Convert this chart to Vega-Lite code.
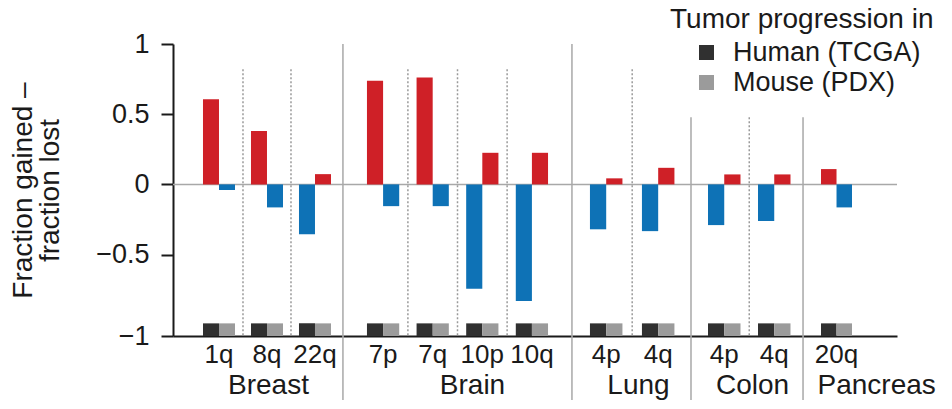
{
  "$schema": "https://vega.github.io/schema/vega-lite/v6.json",
  "background": "white",
  "padding": {"left": 9, "top": 6, "right": 0, "bottom": 0},
  "datasets": {
    "arms": [
      {"group": "Breast", "arm": "1q", "species": "Human (TCGA)", "value": 0.607},
      {"group": "Breast", "arm": "1q", "species": "Mouse (PDX)", "value": -0.04},
      {"group": "Breast", "arm": "8q", "species": "Human (TCGA)", "value": 0.38},
      {"group": "Breast", "arm": "8q", "species": "Mouse (PDX)", "value": -0.164},
      {"group": "Breast", "arm": "22q", "species": "Human (TCGA)", "value": -0.356},
      {"group": "Breast", "arm": "22q", "species": "Mouse (PDX)", "value": 0.073},
      {"group": "Brain", "arm": "7p", "species": "Human (TCGA)", "value": 0.738},
      {"group": "Brain", "arm": "7p", "species": "Mouse (PDX)", "value": -0.155},
      {"group": "Brain", "arm": "7q", "species": "Human (TCGA)", "value": 0.762},
      {"group": "Brain", "arm": "7q", "species": "Mouse (PDX)", "value": -0.155},
      {"group": "Brain", "arm": "10p", "species": "Human (TCGA)", "value": -0.743},
      {"group": "Brain", "arm": "10p", "species": "Mouse (PDX)", "value": 0.225},
      {"group": "Brain", "arm": "10q", "species": "Human (TCGA)", "value": -0.831},
      {"group": "Brain", "arm": "10q", "species": "Mouse (PDX)", "value": 0.225},
      {"group": "Lung", "arm": "4p", "species": "Human (TCGA)", "value": -0.32},
      {"group": "Lung", "arm": "4p", "species": "Mouse (PDX)", "value": 0.043},
      {"group": "Lung", "arm": "4q", "species": "Human (TCGA)", "value": -0.333},
      {"group": "Lung", "arm": "4q", "species": "Mouse (PDX)", "value": 0.118},
      {"group": "Colon", "arm": "4p", "species": "Human (TCGA)", "value": -0.29},
      {"group": "Colon", "arm": "4p", "species": "Mouse (PDX)", "value": 0.071},
      {"group": "Colon", "arm": "4q", "species": "Human (TCGA)", "value": -0.261},
      {"group": "Colon", "arm": "4q", "species": "Mouse (PDX)", "value": 0.071},
      {"group": "Pancreas", "arm": "20q", "species": "Human (TCGA)", "value": 0.109},
      {"group": "Pancreas", "arm": "20q", "species": "Mouse (PDX)", "value": -0.164}
    ],
    "dividers": [
      {"group": "Breast", "arm": "8q"},
      {"group": "Breast", "arm": "22q"},
      {"group": "Brain", "arm": "7q"},
      {"group": "Brain", "arm": "10p"},
      {"group": "Brain", "arm": "10q"},
      {"group": "Lung", "arm": "4q"},
      {"group": "Colon", "arm": "4q"}
    ],
    "edges": [
      {"group": "Brain", "arm": "7p"},
      {"group": "Lung", "arm": "4p"},
      {"group": "Colon", "arm": "4p"},
      {"group": "Pancreas", "arm": "20q"}
    ]
  },
  "hconcat": [
    {
      "width": 170, "height": 292,
      "layer": [
        {"data": {"values": [{}]}, "mark": {"type": "rule", "color": "#a8a8a8", "strokeWidth": 1.5}, "encoding": {"y": {"datum": 0, "type": "quantitative"}}},
        {"data": {"name": "dividers"}, "transform": [{"filter": "datum.group == 'Breast'"}], "mark": {"type": "rule", "color": "#9a9a9a", "strokeWidth": 1.5, "strokeDash": [2, 2]},
         "encoding": {"x": {"field": "arm", "type": "nominal", "bandPosition": -0.25}, "y": {"datum": 0.82, "type": "quantitative"}, "y2": {"datum": -1.08}}},
        {"data": {"name": "arms"}, "transform": [{"filter": "datum.group == 'Breast'"}], "mark": {"type": "bar"},
         "encoding": {
           "x": {"field": "arm", "type": "nominal", "scale": {"domain": ["1q", "8q", "22q"], "paddingInner": 0.3333, "paddingOuter": 0.4375, "align": 0.714}, "axis": {"title": "Breast", "titleX": 95}},
           "xOffset": {"field": "species", "type": "nominal", "scale": {"paddingInner": 0, "paddingOuter": 0}},
           "y": {"field": "value", "type": "quantitative", "scale": {"domain": [-1.08, 1], "nice": false},
                 "axis": {"values": [-1.08, -0.5, 0, 0.5, 1], "format": "~g", "labelExpr": "datum.value < -1 ? '\u22121' : replace(datum.label, '-', '\u2212')", "title": ["Fraction gained \u2013", "fraction lost"], "tickSize": 12, "tickWidth": 2, "domainWidth": 2, "labelPadding": 12, "labelFontSize": 27, "titleFontSize": 28, "titleLineHeight": 27, "titlePadding": 31, "grid": false}},
           "y2": {"datum": 0},
           "color": {"condition": {"test": "datum.value >= 0", "value": "#cf2027"}, "value": "#0e72b6"}
         }},
        {"data": {"name": "arms"}, "transform": [{"filter": "datum.group == 'Breast'"}], "mark": {"type": "bar"},
         "encoding": {
           "x": {"field": "arm", "type": "nominal"},
           "xOffset": {"field": "species", "type": "nominal"},
           "y": {"datum": -0.99, "type": "quantitative"},
           "y2": {"datum": -1.08},
           "color": {"field": "species", "type": "nominal", "scale": {"domain": ["Human (TCGA)", "Mouse (PDX)"], "range": ["#303030", "#9b9b9b"]},
                     "legend": {"title": "Tumor progression in", "orient": "none", "legendX": 497, "legendY": -38}}
         }}
      ]
    },
    {
      "width": 229, "height": 292,
      "layer": [
        {"data": {"values": [{}]}, "mark": {"type": "rule", "color": "#a8a8a8", "strokeWidth": 1.5}, "encoding": {"y": {"datum": 0, "type": "quantitative", "axis": null}}},
        {"data": {"name": "edges"}, "transform": [{"filter": "datum.group == 'Brain'"}], "mark": {"type": "rule", "color": "#a8a8a8", "strokeWidth": 1.5},
         "encoding": {"x": {"field": "arm", "type": "nominal", "bandPosition": -0.745}, "y": {"datum": 1, "type": "quantitative", "axis": null}, "y2": {"datum": -1.536}}},
        {"data": {"name": "dividers"}, "transform": [{"filter": "datum.group == 'Brain'"}], "mark": {"type": "rule", "color": "#9a9a9a", "strokeWidth": 1.5, "strokeDash": [2, 2]},
         "encoding": {"x": {"field": "arm", "type": "nominal", "bandPosition": -0.269}, "y": {"datum": 0.82, "type": "quantitative", "axis": null}, "y2": {"datum": -1.08}}},
        {"data": {"name": "arms"}, "transform": [{"filter": "datum.group == 'Brain'"}], "mark": {"type": "bar"},
         "encoding": {
           "x": {"field": "arm", "type": "nominal", "scale": {"domain": ["7p", "7q", "10p", "10q"], "paddingInner": 0.35, "paddingOuter": 0.483, "align": 0.5}, "axis": {"title": "Brain", "titleX": 129}},
           "xOffset": {"field": "species", "type": "nominal", "scale": {"paddingInner": 0, "paddingOuter": 0}},
           "y": {"field": "value", "type": "quantitative", "scale": {"domain": [-1.08, 1], "nice": false}, "axis": null},
           "y2": {"datum": 0},
           "color": {"condition": {"test": "datum.value >= 0", "value": "#cf2027"}, "value": "#0e72b6"}
         }},
        {"data": {"name": "arms"}, "transform": [{"filter": "datum.group == 'Brain'"}], "mark": {"type": "bar"},
         "encoding": {
           "x": {"field": "arm", "type": "nominal"},
           "xOffset": {"field": "species", "type": "nominal"},
           "y": {"datum": -0.99, "type": "quantitative", "axis": null},
           "y2": {"datum": -1.08},
           "color": {"field": "species", "type": "nominal", "scale": {"domain": ["Human (TCGA)", "Mouse (PDX)"], "range": ["#303030", "#9b9b9b"]},
                     "legend": {"title": "Tumor progression in", "orient": "none", "legendX": 497, "legendY": -38}}
         }}
      ]
    },
    {
      "width": 119, "height": 292,
      "layer": [
        {"data": {"values": [{}]}, "mark": {"type": "rule", "color": "#a8a8a8", "strokeWidth": 1.5}, "encoding": {"y": {"datum": 0, "type": "quantitative", "axis": null}}},
        {"data": {"name": "edges"}, "transform": [{"filter": "datum.group == 'Lung'"}], "mark": {"type": "rule", "color": "#a8a8a8", "strokeWidth": 1.5},
         "encoding": {"x": {"field": "arm", "type": "nominal", "bandPosition": -0.554}, "y": {"datum": 1, "type": "quantitative", "axis": null}, "y2": {"datum": -1.536}}},
        {"data": {"name": "dividers"}, "transform": [{"filter": "datum.group == 'Lung'"}], "mark": {"type": "rule", "color": "#9a9a9a", "strokeWidth": 1.5, "strokeDash": [2, 2]},
         "encoding": {"x": {"field": "arm", "type": "nominal", "bandPosition": -0.3}, "y": {"datum": 0.82, "type": "quantitative", "axis": null}, "y2": {"datum": -1.08}}},
        {"data": {"name": "arms"}, "transform": [{"filter": "datum.group == 'Lung'"}], "mark": {"type": "bar"},
         "encoding": {
           "x": {"field": "arm", "type": "nominal", "scale": {"domain": ["4p", "4q"], "paddingInner": 0.375, "paddingOuter": 0.332, "align": 0.52}, "axis": {"title": "Lung", "titleX": 66}},
           "xOffset": {"field": "species", "type": "nominal", "scale": {"paddingInner": 0, "paddingOuter": 0}},
           "y": {"field": "value", "type": "quantitative", "scale": {"domain": [-1.08, 1], "nice": false}, "axis": null},
           "y2": {"datum": 0},
           "color": {"condition": {"test": "datum.value >= 0", "value": "#cf2027"}, "value": "#0e72b6"}
         }},
        {"data": {"name": "arms"}, "transform": [{"filter": "datum.group == 'Lung'"}], "mark": {"type": "bar"},
         "encoding": {
           "x": {"field": "arm", "type": "nominal"},
           "xOffset": {"field": "species", "type": "nominal"},
           "y": {"datum": -0.99, "type": "quantitative", "axis": null},
           "y2": {"datum": -1.08},
           "color": {"field": "species", "type": "nominal", "scale": {"domain": ["Human (TCGA)", "Mouse (PDX)"], "range": ["#303030", "#9b9b9b"]},
                     "legend": {"title": "Tumor progression in", "orient": "none", "legendX": 497, "legendY": -38}}
         }}
      ]
    },
    {
      "width": 112, "height": 292,
      "layer": [
        {"data": {"values": [{}]}, "mark": {"type": "rule", "color": "#a8a8a8", "strokeWidth": 1.5}, "encoding": {"y": {"datum": 0, "type": "quantitative", "axis": null}}},
        {"data": {"name": "edges"}, "transform": [{"filter": "datum.group == 'Colon'"}], "mark": {"type": "rule", "color": "#a8a8a8", "strokeWidth": 1.5},
         "encoding": {"x": {"field": "arm", "type": "nominal", "bandPosition": -0.523}, "y": {"datum": 0.479, "type": "quantitative", "axis": null}, "y2": {"datum": -1.536}}},
        {"data": {"name": "dividers"}, "transform": [{"filter": "datum.group == 'Colon'"}], "mark": {"type": "rule", "color": "#9a9a9a", "strokeWidth": 1.5, "strokeDash": [2, 2]},
         "encoding": {"x": {"field": "arm", "type": "nominal", "bandPosition": -0.269}, "y": {"datum": 0.479, "type": "quantitative", "axis": null}, "y2": {"datum": -1.08}}},
        {"data": {"name": "arms"}, "transform": [{"filter": "datum.group == 'Colon'"}], "mark": {"type": "bar"},
         "encoding": {
           "x": {"field": "arm", "type": "nominal", "scale": {"domain": ["4p", "4q"], "paddingInner": 0.35, "paddingOuter": 0.295, "align": 0.576}, "axis": {"title": "Colon", "titleX": 61}},
           "xOffset": {"field": "species", "type": "nominal", "scale": {"paddingInner": 0, "paddingOuter": 0}},
           "y": {"field": "value", "type": "quantitative", "scale": {"domain": [-1.08, 1], "nice": false}, "axis": null},
           "y2": {"datum": 0},
           "color": {"condition": {"test": "datum.value >= 0", "value": "#cf2027"}, "value": "#0e72b6"}
         }},
        {"data": {"name": "arms"}, "transform": [{"filter": "datum.group == 'Colon'"}], "mark": {"type": "bar"},
         "encoding": {
           "x": {"field": "arm", "type": "nominal"},
           "xOffset": {"field": "species", "type": "nominal"},
           "y": {"datum": -0.99, "type": "quantitative", "axis": null},
           "y2": {"datum": -1.08},
           "color": {"field": "species", "type": "nominal", "scale": {"domain": ["Human (TCGA)", "Mouse (PDX)"], "range": ["#303030", "#9b9b9b"]},
                     "legend": {"title": "Tumor progression in", "orient": "none", "legendX": 497, "legendY": -38}}
         }}
      ]
    },
    {
      "width": 94, "height": 292,
      "layer": [
        {"data": {"values": [{}]}, "mark": {"type": "rule", "color": "#a8a8a8", "strokeWidth": 1.5}, "encoding": {"y": {"datum": 0, "type": "quantitative", "axis": null}}},
        {"data": {"name": "edges"}, "transform": [{"filter": "datum.group == 'Pancreas'"}], "mark": {"type": "rule", "color": "#a8a8a8", "strokeWidth": 1.5},
         "encoding": {"x": {"field": "arm", "type": "nominal", "bandPosition": -0.58}, "y": {"datum": 0.479, "type": "quantitative", "axis": null}, "y2": {"datum": -1.536}}},
        {"data": {"name": "arms"}, "transform": [{"filter": "datum.group == 'Pancreas'"}], "mark": {"type": "bar"},
         "encoding": {
           "x": {"field": "arm", "type": "nominal", "scale": {"domain": ["20q"], "paddingInner": 0.35, "paddingOuter": 0.66, "align": 0.286}, "axis": {"title": "Pancreas", "titleX": 14, "titleAlign": "left"}},
           "xOffset": {"field": "species", "type": "nominal", "scale": {"paddingInner": 0, "paddingOuter": 0}},
           "y": {"field": "value", "type": "quantitative", "scale": {"domain": [-1.08, 1], "nice": false}, "axis": null},
           "y2": {"datum": 0},
           "color": {"condition": {"test": "datum.value >= 0", "value": "#cf2027"}, "value": "#0e72b6"}
         }},
        {"data": {"name": "arms"}, "transform": [{"filter": "datum.group == 'Pancreas'"}], "mark": {"type": "bar"},
         "encoding": {
           "x": {"field": "arm", "type": "nominal"},
           "xOffset": {"field": "species", "type": "nominal"},
           "y": {"datum": -0.99, "type": "quantitative", "axis": null},
           "y2": {"datum": -1.08},
           "color": {"field": "species", "type": "nominal", "scale": {"domain": ["Human (TCGA)", "Mouse (PDX)"], "range": ["#303030", "#9b9b9b"]},
                     "legend": {"title": "Tumor progression in", "orient": "none", "legendX": 497, "legendY": -38}}
         }}
      ]
    }
  ],
  "spacing": 0,
  "bounds": "flush",
  "resolve": {"scale": {"x": "independent", "xOffset": "independent", "y": "shared", "color": "shared"}, "legend": {"color": "shared"}},
  "config": {
    "font": "Liberation Sans",
    "view": {"stroke": null},
    "axis": {"labelColor": "#1a1a1a", "titleColor": "#1a1a1a", "domainColor": "#1a1a1a", "tickColor": "#1a1a1a", "titleFontWeight": "normal", "grid": false, "labelFont": "Liberation Sans", "titleFont": "Liberation Sans"},
    "axisX": {"labelAngle": 0, "ticks": false, "domainWidth": 2, "labelFontSize": 26, "labelPadding": 5, "titleFontSize": 28, "titlePadding": 4},
    "legend": {"symbolType": "square", "symbolSize": 225, "symbolStrokeWidth": 0, "symbolOffset": 23, "labelOffset": 13, "labelFontSize": 27, "titleFontSize": 28, "titleFontWeight": "normal", "titleColor": "#1a1a1a", "labelColor": "#1a1a1a", "titlePadding": 5, "rowPadding": 2, "titleLimit": 400, "labelLimit": 400}
  }
}
